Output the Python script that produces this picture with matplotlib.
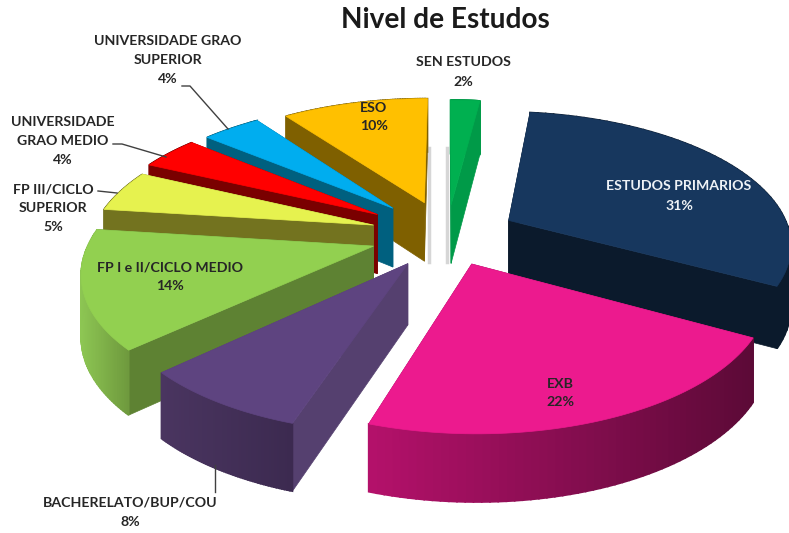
import numpy as np
import matplotlib
matplotlib.use("Agg")
import matplotlib.pyplot as plt
from matplotlib.colors import to_rgb

plt.rcParams['font.family'] = ['Lato', 'DejaVu Sans']

# porcentaxes en orde horario dende arriba
categories = ["SEN ESTUDOS", "ESTUDOS PRIMARIOS", "EXB", "BACHERELATO/BUP/COU",
              "FP I e II/CICLO MEDIO", "FP III/CICLO\nSUPERIOR",
              "UNIVERSIDADE\nGRAO MEDIO", "UNIVERSIDADE GRAO\nSUPERIOR", "ESO"]
values = [2, 31, 22, 8, 14, 5, 4, 4, 10]

top_colors = ["#00B050", "#17375E", "#EC1A8E", "#5E4480", "#92D050",
              "#E6F24F", "#FF0000", "#00ADEF", "#FFC000"]
wall_colors = ["#009A48", "#0B1A2C", "#8A0E55", "#55406F", "#5E8233",
               "#73731F", "#7A0000", "#00607F", "#7F6000"]
rim_left = ["#009A48", "#0B1A2C", "#B5116B", "#4A3560", "#8DC653",
            "#73731F", "#7A0000", "#00607F", "#7F6000"]
rim_right = ["#009A48", "#0B1A2C", "#5C0A37", "#3C2A50", "#6F9A3E",
             "#73731F", "#7A0000", "#00607F", "#7F6000"]

label_pos = [(463, 72), (679, 196), (560, 393), (130, 512), (170, 277),
             (53, 208), (63, 141), (168, 60), (374, 117)]
label_colors = ["#262626", "#EEF2F6", "#262626", "#262626", "#262626",
                "#262626", "#262626", "#262626", "#262626"]

# orde de debuxo: de atras cara adiante
draw_order = [8, 7, 6, 5, 4, 3, 0, 1, 2]

# separacion de cada porcion
explode = [0.24, 0.25, 0.23, 0.25, 0.27, 0.275, 0.30, 0.29, 0.27]

leaders = [([182, 190, 228], [86, 86, 129]),
           ([113, 122, 166], [144, 144, 157]),
           ([98, 117], [191, 193]),
           ([215, 215], [465, 492])]

# sombras suaves a carón de ESO e SEN ESTUDOS
shadows = [([429, 429], [148, 262]), ([447, 447], [148, 262])]

# parametros da proxeccion
cx, cy = 447, 235
A, B, k = 282, 131, 0.165
depth = 60


def project(X, Y, low=False):
    w = 1 + k * Y
    sx = cx + A * X / w
    sy = cy - B * Y / w
    if low:
        sy = sy + depth / (1 + 0.6 * k * Y)
    return sx, sy


fig = plt.figure(figsize=(7.89, 5.33), dpi=100)
ax = fig.add_axes([0, 0, 1, 1])
ax.set_xlim(0, 789)
ax.set_ylim(533, 0)
ax.axis("off")

for sx_, sy_ in shadows:
    ax.plot(sx_, sy_, color="#999999", lw=2.5, alpha=0.4)

fracs = np.array(values) / sum(values) * 2 * np.pi
ends = np.cumsum(fracs)
starts = ends - fracs

for i in draw_order:
    a0, a1 = starts[i], ends[i]
    mid = (a0 + a1) / 2
    ox, oy = explode[i] * np.sin(mid), explode[i] * np.cos(mid)
    t = np.linspace(a0, a1, 60)
    X = ox + np.sin(t)
    Y = oy + np.cos(t)

    # paredes radiais
    for a in [a0, a1]:
        ex, ey = ox + np.sin(a), oy + np.cos(a)
        p = [project(ox, oy), project(ex, ey), project(ex, ey, True), project(ox, oy, True)]
        ax.fill(*zip(*p), color=wall_colors[i], lw=0.5)

    # parede exterior, por tramos para o degradado
    xs, ys = project(X, Y)
    xl, yl = project(X, Y, True)
    c0, c1 = np.array(to_rgb(rim_left[i])), np.array(to_rgb(rim_right[i]))
    x_span = max(xs.max() - xs.min(), 1)
    for j in range(len(t) - 1):
        f = (xs[j] - xs.min()) / x_span
        ax.fill([xs[j], xs[j + 1], xl[j + 1], xl[j]], [ys[j], ys[j + 1], yl[j + 1], yl[j]],
                color=tuple(c0 + (c1 - c0) * f), lw=1.2)

    # cara superior
    px, py = project(np.r_[ox, X], np.r_[oy, Y])
    ax.fill(px, py, color=top_colors[i], lw=0.5)

for lx, ly in leaders:
    ax.plot(lx, ly, color="#404040", lw=1)

for name, v, pos, col in zip(categories, values, label_pos, label_colors):
    ax.text(pos[0], pos[1], f"{name}\n{v}%", ha="center", va="center", color=col,
            fontsize=10.2, fontweight="bold", linespacing=1.7)

ax.text(445, 20, "Nivel de Estudos", ha="center", va="center", fontsize=20.2,
        fontweight="bold", color="#1a1a1a")

fig.savefig("out.png", dpi=100)
